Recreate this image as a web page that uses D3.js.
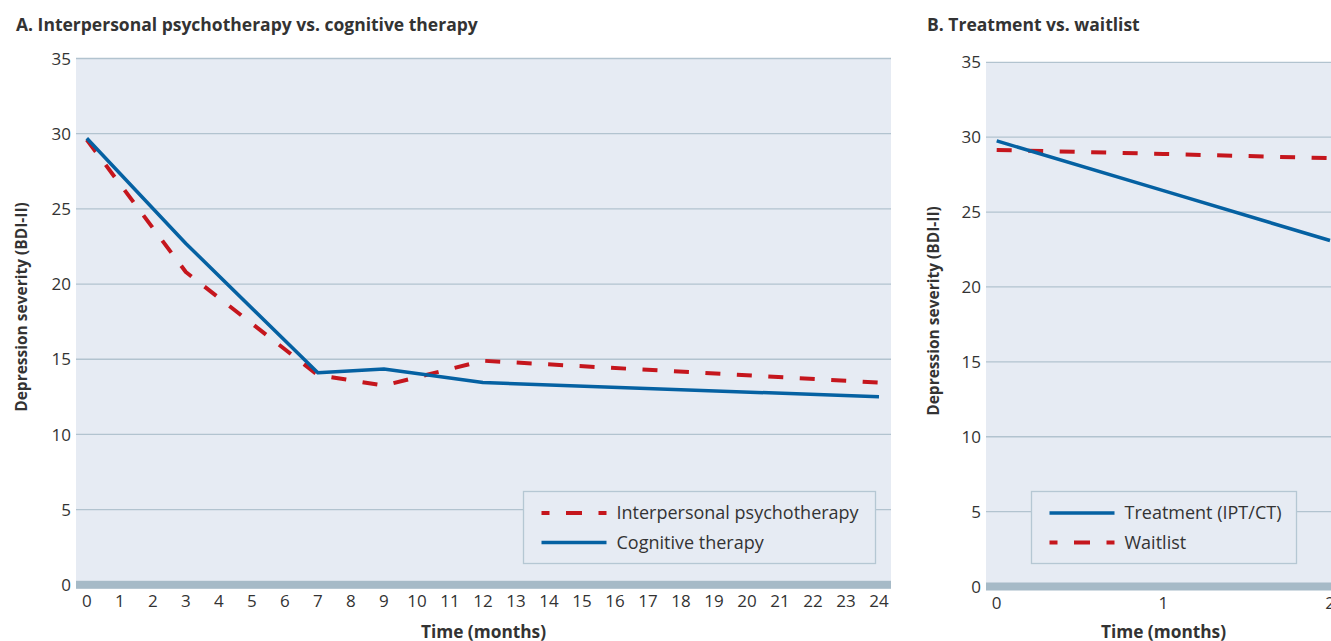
<!DOCTYPE html>
<html>
<head>
<meta charset="utf-8">
<script src="https://cdnjs.cloudflare.com/ajax/libs/d3/7.8.5/d3.min.js"></script>
<style>
  html, body { margin: 0; padding: 0; background: #fff; overflow: hidden; }
  svg { display: block; }
  text { font-family: "Open Sans", Lato, sans-serif; fill: #333; }
</style>
</head>
<body>
<svg id="chart" width="1331" height="641"></svg>
<script>
// ---- Data ----
const yTicks = [0, 5, 10, 15, 20, 25, 30, 35];

// Panel A
const monthsA = d3.range(0, 25);            // tick labels 0..24
const iptMonths = [0, 3, 7, 9, 12, 24];
const iptValues = [29.6, 20.8, 13.95, 13.25, 14.9, 13.45];
const ctMonths  = [0, 3, 7, 9, 12, 24];
const ctValues  = [29.7, 22.7, 14.1, 14.35, 13.45, 12.5];

// Panel B
const monthsB = [0, 1, 2];
const treatMonths = [0, 1, 2];
const treatValues = [29.75, 26.43, 23.1];
const waitMonths  = [0, 1, 2];
const waitValues  = [29.15, 28.88, 28.6];

// ---- Styles ----
const BLUE = "#0561a2", RED = "#c5161d";
const BG = "#e6ebf3", GRID = "#b2c3cf", BAR = "#a6bac7", BORDER = "#b5c7d3";

const svg = d3.select("#chart");

function panel(cfg) {
  const g = svg.append("g");
  const x = d3.scaleLinear().domain(cfg.xDomain).range(cfg.xRange);
  const y = d3.scaleLinear().domain([0, 35]).range([cfg.y0, cfg.y35]);

  // background
  g.append("rect")
    .attr("x", cfg.left).attr("y", y(35))
    .attr("width", cfg.right - cfg.left).attr("height", y(0) - y(35))
    .attr("fill", BG);

  // gridlines
  g.selectAll("line.grid").data(yTicks.filter(d => d > 0)).join("line")
    .attr("x1", cfg.left).attr("x2", cfg.right)
    .attr("y1", d => y(d)).attr("y2", d => y(d))
    .attr("stroke", GRID).attr("stroke-width", 1.3);

  // base bar
  g.append("rect")
    .attr("x", cfg.left).attr("y", y(0) - 4)
    .attr("width", cfg.right - cfg.left).attr("height", 8)
    .attr("fill", BAR);

  // y tick labels
  g.selectAll("text.ytick").data(yTicks).join("text")
    .attr("x", cfg.left - 5).attr("y", d => y(d))
    .attr("dy", "0.36em").attr("text-anchor", "end")
    .attr("font-size", 17).text(d => d);

  // x tick labels
  g.selectAll("text.xtick").data(cfg.xTicks).join("text")
    .attr("x", d => x(d)).attr("y", y(0) + 22.5)
    .attr("text-anchor", "middle")
    .attr("font-size", 17).text(d => d);

  // titles
  g.append("text").attr("x", cfg.titleX).attr("y", 30.5)
    .attr("font-size", 17.5).attr("font-weight", 700).text(cfg.title);
  g.append("text").attr("x", (cfg.left + cfg.right) / 2).attr("y", 637.5)
    .attr("text-anchor", "middle").attr("font-size", 17.3).attr("font-weight", 700)
    .text("Time (months)");
  g.append("text")
    .attr("transform", `translate(${cfg.ylabX},${cfg.ylabY}) rotate(-90)`)
    .attr("text-anchor", "middle").attr("font-size", 15.5).attr("font-weight", 700)
    .text("Depression severity (BDI-II)");

  // series
  const line = d3.line().x(d => x(d[0])).y(d => y(d[1]));
  cfg.series.forEach(s => {
    g.append("path")
      .datum(d3.zip(s.months, s.values))
      .attr("d", line)
      .attr("fill", "none")
      .attr("stroke", s.color)
      .attr("stroke-width", s.dashed ? 4 : 3.5)
      .attr("stroke-dasharray", s.dashed ? "15,16.5" : null)
      .attr("stroke-linejoin", "round");
  });

  // legend
  const L = cfg.legend;
  g.append("rect").attr("x", L.x).attr("y", L.y).attr("width", L.w).attr("height", L.h)
    .attr("fill", BG).attr("stroke", BORDER).attr("stroke-width", 1.3);
  L.items.forEach((it, i) => {
    const ly = L.y + 21.5 + i * 29.5;
    g.append("line").attr("x1", L.x + 18).attr("x2", L.x + 83)
      .attr("y1", ly).attr("y2", ly)
      .attr("stroke", it.color).attr("stroke-width", it.dashed ? 4 : 3.5)
      .attr("stroke-dasharray", it.dashed ? "8,16.5,16,16.5,8" : null);
    g.append("text").attr("x", L.x + 93).attr("y", ly).attr("dy", "0.36em")
      .attr("font-size", 18).text(it.label);
  });
}

panel({
  title: "A. Interpersonal psychotherapy vs. cognitive therapy", titleX: 16,
  left: 76, right: 891, xDomain: [0, 24], xRange: [86.8, 879],
  y0: 584.8, y35: 58.5, xTicks: monthsA, ylabX: 27, ylabY: 307,
  series: [
    { months: iptMonths, values: iptValues, color: RED, dashed: true },
    { months: ctMonths, values: ctValues, color: BLUE, dashed: false }
  ],
  legend: { x: 523.5, y: 491.5, w: 352, h: 72, items: [
    { label: "Interpersonal psychotherapy", color: RED, dashed: true },
    { label: "Cognitive therapy", color: BLUE, dashed: false }
  ]}
});

panel({
  title: "B. Treatment vs. waitlist", titleX: 927,
  left: 986, right: 1341, xDomain: [0, 2], xRange: [996.7, 1330],
  y0: 586.5, y35: 62.3, xTicks: monthsB, ylabX: 939, ylabY: 311,
  series: [
    { months: waitMonths, values: waitValues, color: RED, dashed: true },
    { months: treatMonths, values: treatValues, color: BLUE, dashed: false }
  ],
  legend: { x: 1031.5, y: 491.5, w: 265, h: 72, items: [
    { label: "Treatment (IPT/CT)", color: BLUE, dashed: false },
    { label: "Waitlist", color: RED, dashed: true }
  ]}
});
</script>
</body>
</html>
